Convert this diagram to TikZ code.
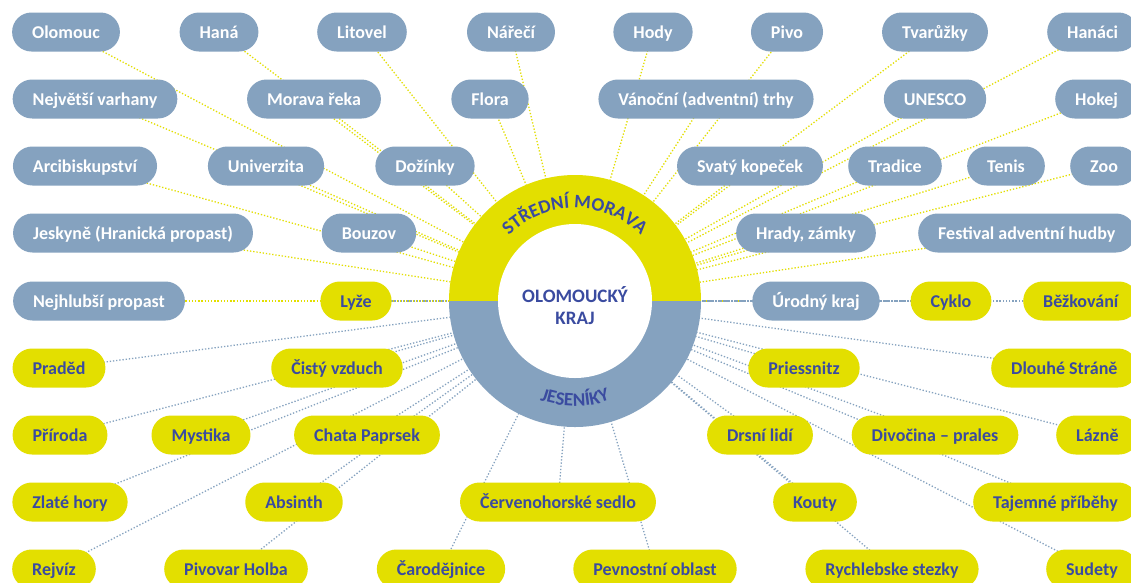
\documentclass[tikz,border=0pt]{standalone}
\usepackage{fontspec}
\setmainfont{Carlito}
\usetikzlibrary{decorations.text}

\definecolor{hanablue}{HTML}{85A2BF}
\definecolor{hanayellow}{HTML}{E3DF00}
\definecolor{inkblue}{HTML}{3A4BA0}

\pgfdeclarelayer{back}
\pgfdeclarelayer{links}
\pgfsetlayers{back,links,main}

\tikzset{
  tag/.style={rectangle, rounded corners=19.4pt, minimum height=39pt,
    inner xsep=20pt, inner ysep=0pt, text height=15pt, text depth=2pt,
    font=\fontsize{18}{18}\selectfont\bfseries},
  midtag/.style={tag, fill=hanablue, text=white},
  jestag/.style={tag, fill=hanayellow, text=inkblue},
  linkbase/.style={line width=1.3pt, dash pattern=on 1.3pt off 1.9pt},
  midlink/.style={linkbase, draw=hanayellow},
  jeslink/.style={linkbase, draw=hanablue},
  hubtext/.style={text=inkblue, font=\fontsize{19}{19}\selectfont\bfseries, inner sep=0pt, anchor=base},
}

\begin{document}
\begin{tikzpicture}[x=1pt,y=1pt]
\useasboundingbox (0,0) rectangle (1131,-582);
\begin{pgfonlayer}{back}
  \fill[white] (0,0) rectangle (1131,-582);
\end{pgfonlayer}

\coordinate (C) at (575,-301);

% ---- Střední Morava (blue tags) ----
\node[midtag] (olomouc)  at (66,-32)  {Olomouc};
\node[midtag] (hana)     at (219,-32) {Haná};
\node[midtag] (litovel)  at (362,-32) {Litovel};
\node[midtag] (nareci)   at (511,-32) {Nářečí};
\node[midtag] (hody)     at (653,-32) {Hody};
\node[midtag] (pivo)     at (787,-32) {Pivo};
\node[midtag] (tvaruzky) at (935,-32) {Tvarůžky};
\node[midtag, anchor=west] (hanaci) at (1047,-32) {Hanáci};

\node[midtag] (varhany) at (95,-99)  {Největší varhany};
\node[midtag] (morava)  at (314,-99) {Morava řeka};
\node[midtag] (flora)   at (490,-99) {Flora};
\node[midtag] (trhy)    at (706,-99) {Vánoční (adventní) trhy};
\node[midtag] (unesco)  at (935,-99) {UNESCO};
\node[midtag, anchor=west] (hokej) at (1055,-99) {Hokej};

\node[midtag] (arci)    at (85,-166)   {Arcibiskupství};
\node[midtag] (univ)    at (266,-166)  {Univerzita};
\node[midtag] (doziny)  at (425,-166)  {Dožínky};
\node[midtag] (kopecek) at (750,-166)  {Svatý kopeček};
\node[midtag] (tradice) at (895,-166)  {Tradice};
\node[midtag] (tenis)   at (1006,-166) {Tenis};
\node[midtag, anchor=west] (zoo) at (1070,-166) {Zoo};

\node[midtag] (jeskyne) at (133,-233) {Jeskyně (Hranická propast)};
\node[midtag] (bouzov)  at (369,-233) {Bouzov};
\node[midtag] (hrady)   at (806,-233) {Hrady, zámky};
\node[midtag, anchor=west] (festival) at (918,-233) {Festival adventní hudby};

\node[midtag] (propast) at (99,-301)  {Nejhlubší propast};
\node[midtag] (urodny)  at (816,-301) {Úrodný kraj};

% ---- Jeseníky (yellow tags) ----
\node[jestag] (lyze)  at (356,-301) {Lyže};
\node[jestag] (cyklo) at (951,-301) {Cyklo};
\node[jestag, anchor=west] (bezky) at (1023,-301) {Běžkování};

\node[jestag] (praded)     at (59,-368)  {Praděd};
\node[jestag] (vzduch)     at (337,-368) {Čistý vzduch};
\node[jestag] (priessnitz) at (804,-368) {Priessnitz};
\node[jestag, anchor=west] (strane) at (991,-368) {Dlouhé Stráně};

\node[jestag] (priroda)  at (60,-435)  {Příroda};
\node[jestag] (mystika)  at (201,-435) {Mystika};
\node[jestag] (paprsek)  at (367,-435) {Chata Paprsek};
\node[jestag] (drsni)    at (760,-435) {Drsní lidí};
\node[jestag] (divocina) at (935,-435) {Divočina – prales};
\node[jestag, anchor=west] (lazne) at (1056,-435) {Lázně};

\node[jestag] (zlate)   at (70,-502)  {Zlaté hory};
\node[jestag] (absinth) at (294,-502) {Absinth};
\node[jestag] (sedlo)   at (558,-502) {Červenohorské sedlo};
\node[jestag] (kouty)   at (815,-502) {Kouty};
\node[jestag, anchor=west] (tajemne) at (973,-502) {Tajemné příběhy};

\node[jestag] (rejviz)  at (54,-569)  {Rejvíz};
\node[jestag] (holba)   at (236,-569) {Pivovar Holba};
\node[jestag] (carod)   at (441,-569) {Čarodějnice};
\node[jestag] (pevnost) at (655,-569) {Pevnostní oblast};
\node[jestag] (rychleb) at (892,-569) {Rychlebske stezky};
\node[jestag, anchor=west] (sudety) at (1046,-569) {Sudety};

% ---- dotted spokes towards the hub ----
\begin{pgfonlayer}{links}
  \foreach \n in {olomouc,hana,litovel,nareci,hody,pivo,tvaruzky,hanaci,
                  varhany,morava,flora,trhy,unesco,hokej,
                  arci,univ,doziny,kopecek,tradice,tenis,zoo,
                  jeskyne,bouzov,hrady,festival,propast,urodny}
    \draw[midlink] (\n.center) -- (C);
  \foreach \n in {lyze,cyklo,bezky,praded,vzduch,priessnitz,strane,
                  priroda,mystika,paprsek,drsni,divocina,lazne,
                  zlate,absinth,sedlo,kouty,tajemne,
                  rejviz,holba,carod,pevnost,rychleb,sudety}
    \draw[jeslink] (\n.center) -- (C);
\end{pgfonlayer}

% ---- hub ring ----
\fill[hanayellow] (C) ++(0:126) arc[start angle=0, end angle=180, radius=126] -- cycle;
\fill[hanablue] (C) ++(180:126) arc[start angle=180, end angle=360, radius=126] -- cycle;
\fill[white] (C) circle[radius=77];

\path[decorate, decoration={text along path, text align=center,
  text={|\fontsize{19}{19}\selectfont\bfseries\color{inkblue}|STŘEDNÍ MORAVA}}]
  (C) ++(165:93) arc[start angle=165, end angle=15, radius=93];
\path[decorate, decoration={text along path, text align=center,
  text={|\fontsize{19}{19}\selectfont\bfseries\color{inkblue}|JESENÍKY}}]
  (C) ++(200:105) arc[start angle=200, end angle=340, radius=105];

\node[hubtext] (hubtop) at (575,-302) {OLOMOUCKÝ};
\node[hubtext] (hubbot) at (575,-324) {KRAJ};
\end{tikzpicture}
\end{document}
